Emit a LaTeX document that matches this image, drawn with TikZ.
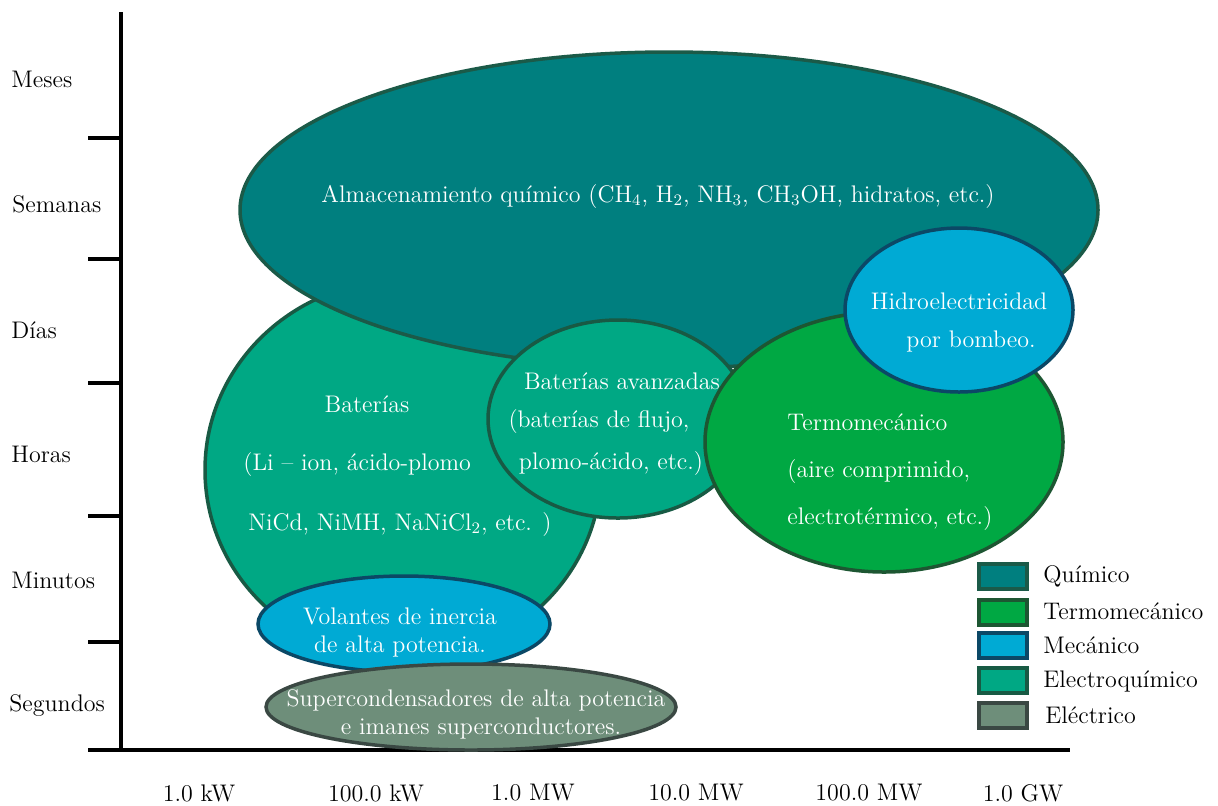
\documentclass[tikz,border=0pt]{standalone}
\usetikzlibrary{shapes.geometric}
\definecolor{quimF}{HTML}{007F7F}
\definecolor{quimD}{HTML}{1B5A48}
\definecolor{termF}{HTML}{00A843}
\definecolor{termD}{HTML}{1D5632}
\definecolor{mecF}{HTML}{00AAD4}
\definecolor{mecD}{HTML}{0B4866}
\definecolor{elqF}{HTML}{00A884}
\definecolor{elqD}{HTML}{185A44}
\definecolor{eleF}{HTML}{6E8E7A}
\definecolor{eleD}{HTML}{3A4843}
\begin{document}
\begin{tikzpicture}[x=0.5pt,y=-0.5pt,
  every node/.style={font=\fontsize{12}{14}\selectfont},
  blob/.style={ellipse,line width=1.75pt,inner sep=0pt},
  lbl/.style={text=white,inner sep=0pt},
  ax/.style={line width=2pt},
  key/.style={rectangle,line width=2pt,minimum width=24pt,minimum height=12.5pt,inner sep=0pt},
  keytxt/.style={anchor=west,inner sep=0pt}]
\useasboundingbox (0,0) rectangle (1218,805);
% axes
\coordinate (top) at (121,12);
\coordinate (orig) at (121,750);
\coordinate (xl) at (88,750);
\coordinate (xr) at (1070,750);
\draw[ax] (top) -- (orig);
\draw[ax] (xl) -- (xr);
\foreach \yy [count=\i] in {138,259,383,516,642}{
  \coordinate (ta\i) at (88,\yy);
  \coordinate (tb\i) at (121,\yy);
  \draw[ax] (ta\i) -- (tb\i);
}
% y labels
\node[anchor=west,inner sep=0pt] (ym) at (11,79) {Meses};
\node[anchor=west,inner sep=0pt] (ys) at (12,204) {Semanas};
\node[anchor=west,inner sep=0pt] (yd) at (11,330) {Días};
\node[anchor=west,inner sep=0pt] (yh) at (11,454) {Horas};
\node[anchor=west,inner sep=0pt] (ymin) at (11,580) {Minutos};
\node[anchor=west,inner sep=0pt] (yseg) at (9,705) {Segundos};
% x labels
\node (x1) at (199,793) {1.0 kW};
\node (x2) at (376,793) {100.0 kW};
\node (x3) at (533,793) {1.0 MW};
\node (x4) at (696,793) {10.0 MW};
\node (x5) at (869,793) {100.0 MW};
\node (x6) at (1023,793) {1.0 GW};
% batteries
\node[blob,draw=elqD,fill=elqF,minimum width=198pt,minimum height=190pt] (bat) at (403,470) {};
% chemical
\node[blob,draw=quimD,fill=quimF,minimum width=429pt,minimum height=158pt] (quim) at (669,210) {};
\node[lbl] (quimt) at (658,196) {Almacenamiento químico (CH$_4$, H$_2$, NH$_3$, CH$_3$OH, hidratos, etc.)};
% battery texts
\node[lbl] (bat1) at (367,404) {Baterías};
\node[lbl,anchor=west] (bat2) at (243,464) {(Li -- ion, ácido-plomo};
\node[lbl,anchor=west] (bat3) at (248,524) {NiCd, NiMH, NaNiCl$_2$, etc. )};
% advanced
\node[blob,draw=elqD,fill=elqF,minimum width=130pt,minimum height=99pt] (adv) at (618,419) {};
\node[lbl] (adv1) at (622,381) {Baterías avanzadas};
\node[lbl] (adv2) at (599,421) {(baterías de flujo,};
\node[lbl] (adv3) at (611,463) {plomo-ácido, etc.)};
% thermo
\node[blob,draw=termD,fill=termF,minimum width=179pt,minimum height=130pt] (term) at (884,442) {};
\node[lbl,anchor=west] (term1) at (787,422) {Termomecánico};
\node[lbl,anchor=west] (term2) at (787,471) {(aire comprimido,};
\node[lbl,anchor=west] (term3) at (787,518) {electrotérmico, etc.)};
% hydro
\node[blob,draw=mecD,fill=mecF,minimum width=114pt,minimum height=82pt] (hyd) at (959,310) {};
\node[lbl] (hyd1) at (959,301) {Hidroelectricidad};
\node[lbl] (hyd2) at (971,341) {por bombeo.};
% flywheel
\node[blob,draw=mecD,fill=mecF,minimum width=146pt,minimum height=48pt] (vol) at (404,624) {};
\node[lbl] (vol1) at (400,616) {Volantes de inercia};
\node[lbl] (vol2) at (400,646) {de alta potencia.};
% supercaps
\node[blob,draw=eleD,fill=eleF,minimum width=205pt,minimum height=43pt] (sup) at (471,707) {};
\node[lbl] (sup1) at (476,700) {Supercondensadores de alta potencia};
\node[lbl] (sup2) at (481,728) {e imanes superconductores.};
% legend
\node[key,draw=quimD,fill=quimF] (k1) at (1002.5,576) {};
\node[key,draw=termD,fill=termF] (k2) at (1002.5,612) {};
\node[key,draw=mecD,fill=mecF] (k3) at (1002.5,645) {};
\node[key,draw=elqD,fill=elqF] (k4) at (1002.5,680.5) {};
\node[key,draw=eleD,fill=eleF] (k5) at (1002.5,715) {};
\node[keytxt] (l1) at (1043,576) {Químico};
\node[keytxt] (l2) at (1043,611) {Termomecánico};
\node[keytxt] (l3) at (1043,645) {Mecánico};
\node[keytxt] (l4) at (1043,681) {Electroquímico};
\node[keytxt] (l5) at (1045,715) {Eléctrico};
\end{tikzpicture}
\end{document}
